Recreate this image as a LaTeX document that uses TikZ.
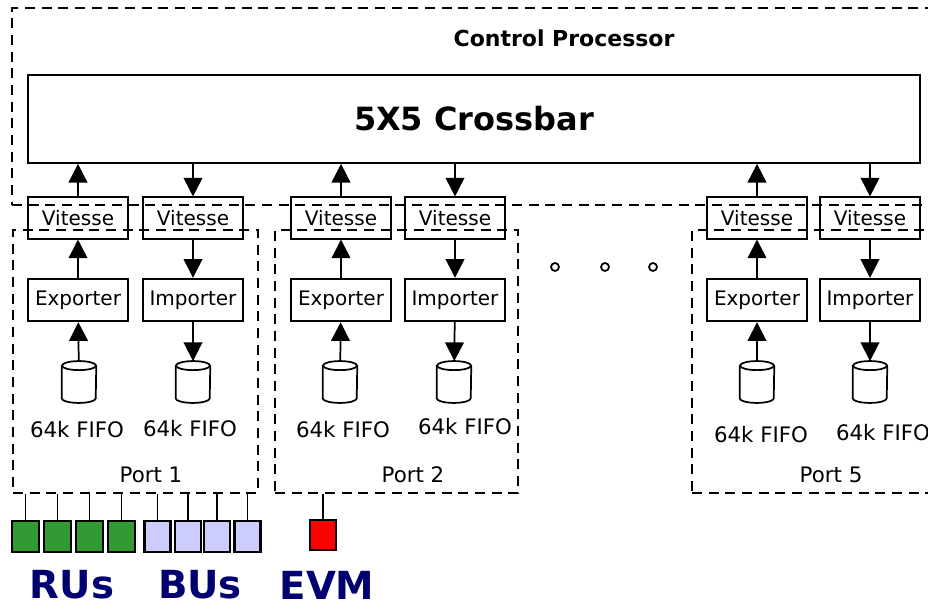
\documentclass[tikz,border=0pt]{standalone}
\usepackage{fontspec}
\setmainfont{DejaVu Sans}
\usetikzlibrary{arrows.meta}
\definecolor{ruGreen}{HTML}{339933}
\definecolor{buLav}{HTML}{CCCCFF}
\definecolor{evmRed}{HTML}{FF0000}
\definecolor{labelNavy}{HTML}{000070}
\tikzset{
  blk/.style={draw, line width=1.3pt, minimum width=75pt, minimum height=31pt,
              inner sep=0pt, font=\fontsize{15}{18}\selectfont},
  fifo/.style={minimum width=25.5pt, minimum height=31pt, inner sep=0pt},
  dashbox/.style={draw, line width=1.2pt, dash pattern=on 7.5pt off 5pt, inner sep=0pt},
  arr/.style={line width=1.3pt, -{Triangle[width=14pt,length=14pt]}},
  wire/.style={line width=1.3pt},
  unit/.style={draw, line width=1.6pt, minimum width=20pt, minimum height=23pt, inner sep=0pt},
  lbl/.style={font=\fontsize{16}{19}\selectfont},
  grp/.style={font=\bfseries\fontsize{29}{33}\selectfont, text=labelNavy},
  dot/.style={circle, draw, line width=1.3pt, minimum size=6pt, inner sep=0pt}
}
% storage can drawn round a named fifo node
\newcommand{\fifocan}[1]{%
  \draw[wire] ([yshift=-3.4pt]#1.north) ellipse [x radius=12.75pt, y radius=3.4pt];
  \draw[wire] ([yshift=-3.4pt]#1.north west) -- ([yshift=3.4pt]#1.south west)
    arc [start angle=180, end angle=360, x radius=12.75pt, y radius=3.4pt]
    -- ([yshift=-3.4pt]#1.north east);
}

\begin{document}
\begin{tikzpicture}[x=0.75pt, y=-0.75pt]
  \useasboundingbox (0,0) rectangle (928,609);
  \clip (0,0) rectangle (928,609);

  % crossbar
  \node[draw, line width=1.3pt, minimum width=669pt, minimum height=66pt, inner sep=0pt,
        font=\bfseries\fontsize{24}{28}\selectfont] (xbar) at (474,119) {5X5 Crossbar};
  \node[font=\bfseries\fontsize{16.5}{20}\selectfont] (cplbl) at (564,38) {Control Processor};

  % port 1
  \node[blk] (vl1) at (78,218) {Vitesse};
  \node[blk] (vr1) at (193,218) {Vitesse};
  \node[blk, minimum height=32pt] (ex1) at (78,300) {Exporter};
  \node[blk, minimum height=32pt] (im1) at (193,300) {Importer};
  \node[fifo] (fl1) at (79,382) {};
  \node[fifo] (fr1) at (193,382) {};
  \node[lbl] (tl1) at (77,430) {64k FIFO};
  \node[lbl] (tr1) at (190,429) {64k FIFO};
  \node[lbl] (pl1) at (151,475) {Port 1};

  % port 2
  \node[blk] (vl2) at (341,218) {Vitesse};
  \node[blk] (vr2) at (455,218) {Vitesse};
  \node[blk, minimum height=32pt] (ex2) at (341,300) {Exporter};
  \node[blk, minimum height=32pt] (im2) at (455,300) {Importer};
  \node[fifo] (fl2) at (340,382) {};
  \node[fifo] (fr2) at (454,382) {};
  \node[lbl] (tl2) at (343,430) {64k FIFO};
  \node[lbl] (tr2) at (465,427) {64k FIFO};
  \node[lbl] (pl2) at (413,475) {Port 2};

  % port 5
  \node[blk] (vl5) at (757,218) {Vitesse};
  \node[blk] (vr5) at (870,218) {Vitesse};
  \node[blk, minimum height=32pt] (ex5) at (757,300) {Exporter};
  \node[blk, minimum height=32pt] (im5) at (870,300) {Importer};
  \node[fifo] (fl5) at (757,382) {};
  \node[fifo] (fr5) at (870,382) {};
  \node[lbl] (tl5) at (761,435) {64k FIFO};
  \node[lbl] (tr5) at (883,433) {64k FIFO};
  \node[lbl] (pl5) at (831,475) {Port 5};

  \fifocan{fl1} \fifocan{fr1}
  \fifocan{fl2} \fifocan{fr2}
  \fifocan{fl5} \fifocan{fr5}

  % dashed outlines
  \node[dashbox, minimum width=703.5pt, minimum height=147.75pt] (cproc) at (481,106.5) {};
  \node[dashbox, minimum width=183.75pt, minimum height=197.25pt] (port1) at (135.5,361.5) {};
  \node[dashbox, minimum width=182.25pt, minimum height=197.25pt] (port2) at (396.5,361.5) {};
  \node[dashbox, minimum width=201pt, minimum height=197.25pt] (port5) at (826,361.5) {};

  % data paths
  \draw[arr] (vl1) -- (vl1 |- xbar.south);
  \draw[arr] (xbar.south -| vr1) -- (vr1);
  \draw[arr] (ex1) -- (vl1);
  \draw[arr] (vr1) -- (im1);
  \draw[arr] (fl1) -- (ex1);
  \draw[arr] (im1) -- (fr1);
  \draw[arr] (vl2) -- (vl2 |- xbar.south);
  \draw[arr] (xbar.south -| vr2) -- (vr2);
  \draw[arr] (ex2) -- (vl2);
  \draw[arr] (vr2) -- (im2);
  \draw[arr] (fl2) -- (ex2);
  \draw[arr] (im2) -- (fr2);
  \draw[arr] (vl5) -- (vl5 |- xbar.south);
  \draw[arr] (xbar.south -| vr5) -- (vr5);
  \draw[arr] (ex5) -- (vl5);
  \draw[arr] (vr5) -- (im5);
  \draw[arr] (fl5) -- (ex5);
  \draw[arr] (im5) -- (fr5);

  % ports 3 and 4 left out
  \node[dot] (d1) at (555,267) {};
  \node[dot] (d2) at (605,267) {};
  \node[dot] (d3) at (653,267) {};

  % readout and builder units
  \node[unit, fill=ruGreen] (ru1) at (25.5,536.5) {};
  \node[unit, fill=ruGreen] (ru2) at (57.5,536.5) {};
  \node[unit, fill=ruGreen] (ru3) at (89.5,536.5) {};
  \node[unit, fill=ruGreen] (ru4) at (121.5,536.5) {};
  \node[unit, fill=buLav, minimum width=19.5pt] (bu1) at (157.5,536.5) {};
  \node[unit, fill=buLav, minimum width=19.5pt] (bu2) at (188,536.5) {};
  \node[unit, fill=buLav, minimum width=19.5pt] (bu3) at (217,536.5) {};
  \node[unit, fill=buLav, minimum width=19.5pt] (bu4) at (247.5,536.5) {};
  \node[unit, fill=evmRed] (evm) at (323,535) {};
  \draw[wire] (ru1) -- (ru1 |- port1.south);
  \draw[wire] (ru2) -- (ru2 |- port1.south);
  \draw[wire] (ru3) -- (ru3 |- port1.south);
  \draw[wire] (ru4) -- (ru4 |- port1.south);
  \draw[wire] (bu1) -- (bu1 |- port1.south);
  \draw[wire] (bu2) -- (bu2 |- port1.south);
  \draw[wire] (bu3) -- (bu3 |- port1.south);
  \draw[wire] (bu4) -- (bu4 |- port1.south);
  \draw[wire] (evm) -- (evm |- port2.south);

  \node[grp] (rulbl) at (72,585) {RUs};
  \node[grp] (bulbl) at (200,585) {BUs};
  \node[grp] (evmlbl) at (327,585) {EVM};
\end{tikzpicture}
\end{document}
